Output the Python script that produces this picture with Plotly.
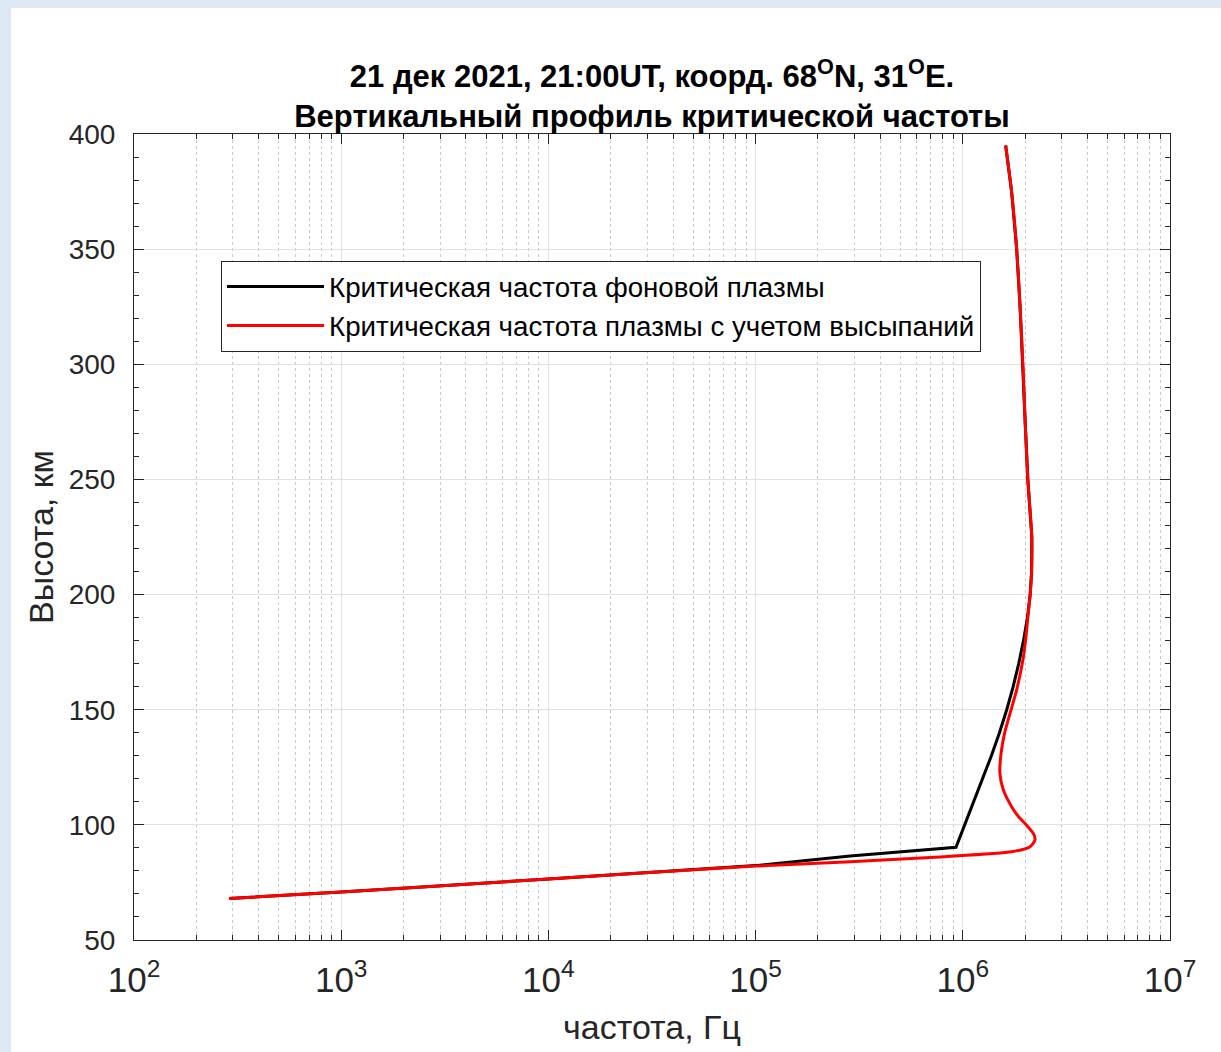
import plotly.graph_objects as go

# ---------------- data ----------------
# Background plasma critical frequency (black)
h_bg = [68, 70.8, 76.5, 82.3, 86.5, 90.25, 100, 110, 120, 130, 140, 150, 160, 170,
        180, 190, 200, 210, 225, 250, 275, 300, 325, 350, 375, 395]
f_bg = [288, 1.0e3, 1.0e4, 1.0e5, 2.86e5, 9.27e5, 1.021e6, 1.130e6, 1.247e6, 1.374e6,
        1.503e6, 1.629e6, 1.750e6, 1.862e6, 1.963e6, 2.051e6, 2.113e6, 2.148e6, 2.153e6,
        2.06e6, 2.00e6, 1.95e6, 1.89e6, 1.82e6, 1.72e6, 1.61e6]

# Plasma critical frequency including precipitation (red)
h_pr = [68, 70.8, 76.5, 82.1, 84.0, 86.2, 88.3, 90.5, 93.4, 96.3, 99.9, 103.5, 107.9,
        115.1, 122.4, 131.1, 139.7, 148.4, 158.6, 171.6, 180.3, 190, 200, 210, 225, 250,
        275, 300, 325, 350, 375, 395]
f_pr = [288, 1.0e3, 1.0e4, 1.0e5, 2.86e5, 8.2e5, 1.72e6, 2.11e6, 2.23e6, 2.19e6, 2.03e6,
        1.86e6, 1.72e6, 1.57e6, 1.51e6, 1.53e6, 1.59e6, 1.69e6, 1.82e6, 1.95e6, 2.01e6,
        2.06e6, 2.115e6, 2.148e6, 2.153e6, 2.06e6, 2.00e6, 1.95e6, 1.89e6, 1.82e6, 1.72e6,
        1.61e6]

name_bg = "Критическая частота фоновой плазмы"
name_pr = "Критическая частота плазмы с учетом высыпаний"
title_text = ("<b>21 дек 2021, 21:00UT, коорд. 68<sup>O</sup>N, 31<sup>O</sup>E.</b><br>"
              "<b>Вертикальный профиль критической частоты</b>")
x_title = "частота, Гц"
y_title = "Высота, км"

# ---------------- layout geometry ----------------
W, H = 1221, 1052
L, R, T, B = 134, 51, 134, 112
PW, PH = W - L - R, H - T - B


def px2x(px):
    return (px - L) / PW


def py2y(py):
    return (H - B - py) / PH


FONT = "Liberation Sans, Arial, sans-serif"
AX = "#262626"

fig = go.Figure()
fig.add_trace(go.Scatter(x=f_bg, y=h_bg, mode="lines", name=name_bg,
                         line=dict(color="black", width=3)))
fig.add_trace(go.Scatter(x=f_pr, y=h_pr, mode="lines", name=name_pr,
                         line=dict(color="#ff0000", width=3, shape="spline", smoothing=0.6)))

fig.update_layout(
    width=W, height=H,
    margin=dict(l=L, r=R, t=T, b=B, pad=0),
    paper_bgcolor="white", plot_bgcolor="white",
    font=dict(family=FONT, color=AX),
    title=dict(text=title_text, x=652 / W, xanchor="center",
               y=1 - 87 / H, yanchor="middle", yref="container",
               font=dict(size=31, color="black", family=FONT)),
    showlegend=True,
    legend=dict(x=px2x(221), y=py2y(261), xanchor="left", yanchor="top",
                bgcolor="white", bordercolor=AX, borderwidth=1,
                font=dict(size=27.7, color="black", family=FONT),
                itemwidth=97),
    xaxis=dict(type="log", range=[2, 7], dtick=1, exponentformat="power",
               showline=True, linecolor=AX, linewidth=1, mirror="allticks",
               ticks="inside", ticklen=10, tickcolor=AX,
               showgrid=True, gridcolor="#e1e1e1", gridwidth=1,
               tickfont=dict(size=28, color=AX), ticklabelstandoff=10,
               title=dict(text=x_title, font=dict(size=34, color=AX), standoff=17),
               minor=dict(dtick="D1", ticks="inside", ticklen=5, tickcolor=AX,
                          showgrid=True, gridcolor="#c9c9c9", griddash="dot", gridwidth=1),
               zeroline=False),
    yaxis=dict(range=[50, 400], dtick=50,
               showline=True, linecolor=AX, linewidth=1, mirror="allticks",
               ticks="inside", ticklen=10, tickcolor=AX,
               showgrid=True, gridcolor="#e1e1e1", gridwidth=1,
               tickfont=dict(size=28, color=AX), ticklabelstandoff=12,
               title=dict(text=y_title, font=dict(size=34, color=AX), standoff=4),
               minor=dict(dtick=10, ticks="inside", ticklen=5, tickcolor=AX, showgrid=False),
               zeroline=False),
)

# light-blue frame strips at the top and left edges of the page
BLUE = "#dde8f4"
fig.add_shape(type="rect", xref="paper", yref="paper", layer="above",
              x0=px2x(0), x1=px2x(W), y0=py2y(0), y1=py2y(8),
              line=dict(width=0), fillcolor=BLUE)
fig.add_shape(type="rect", xref="paper", yref="paper", layer="above",
              x0=px2x(0), x1=px2x(11), y0=py2y(0), y1=py2y(H),
              line=dict(width=0), fillcolor=BLUE)

fig.write_html("out.html", config={"displayModeBar": False},
               post_script="document.body.style.margin='0';document.body.style.overflow='hidden';")
